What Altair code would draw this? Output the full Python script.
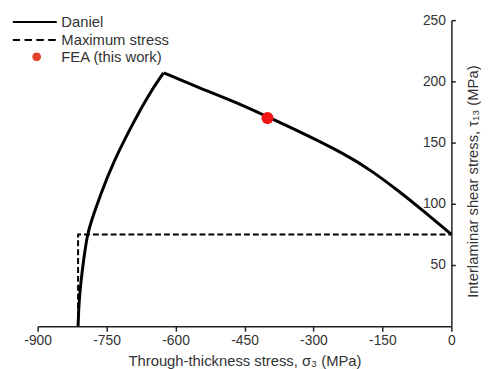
import altair as alt
import pandas as pd

# Daniel failure envelope: rising branch and falling branch
daniel_rise_sigma = [-812, -810, -802, -792, -784, -763, -734, -698, -659, -626]
daniel_rise_tau = [0, 22, 49, 75, 85, 108, 135, 162, 189, 207]
daniel_fall_sigma = [-626, -551, -465, -400, -336, -228, -174, -120, -63, 0]
daniel_fall_tau = [207, 195, 182.5, 171, 160, 140, 127, 112, 95, 75]

# Maximum stress envelope
maxstress_sigma = [-812, -812, 0]
maxstress_tau = [0, 75, 75]

# FEA point
fea_sigma = [-400]
fea_tau = [170]

x_ticks = [-900, -750, -600, -450, -300, -150, 0]
y_ticks = [50, 100, 150, 200, 250]

legend_labels = ["Daniel", "Maximum stress", "FEA (this work)"]

FONT = "Liberation Sans"
TXT = "#333333"

daniel_df = pd.concat([
    pd.DataFrame({"s": daniel_rise_sigma, "t": daniel_rise_tau, "b": "rise",
                  "o": range(len(daniel_rise_sigma))}),
    pd.DataFrame({"s": daniel_fall_sigma, "t": daniel_fall_tau, "b": "fall",
                  "o": range(len(daniel_fall_sigma))}),
], ignore_index=True)
ms_df = pd.DataFrame({"s": maxstress_sigma, "t": maxstress_tau, "o": range(len(maxstress_sigma))})
fea_df = pd.DataFrame({"s": fea_sigma, "t": fea_tau})

xscale = alt.Scale(domain=[-900, 0], nice=False, zero=False)
yscale = alt.Scale(domain=[0, 250], nice=False)

xaxis = alt.Axis(values=x_ticks, title="Through-thickness stress, σ₃ (MPa)",
                 labelExpr="replace(datum.label, '−', '-')",
                 grid=False, domainColor="#222", domainWidth=1.5, tickColor="#222",
                 tickWidth=1.5, tickSize=5, labelFontSize=14, labelColor=TXT,
                 labelFont=FONT, titleFont=FONT, titleFontSize=15, titleFontWeight="normal",
                 titleColor=TXT, labelPadding=2, titlePadding=7, labelFlush=False)
yaxis = alt.Axis(orient="right", values=y_ticks,
                 title="Interlaminar shear stress, τ₁₃ (MPa)",
                 grid=False, domainColor="#222", domainWidth=1.5, tickColor="#222",
                 tickWidth=1.5, tickSize=4, labelFontSize=14, labelColor=TXT,
                 labelFont=FONT, labelAlign="right", labelPadding=-10,
                 titleFont=FONT, titleFontSize=15, titleFontWeight="normal",
                 titleColor=TXT, titleAngle=270, titleX=21, titleY=163,
                 titleBaseline="middle", titleAlign="center", labelFlush=False)

daniel = alt.Chart(daniel_df).mark_line(color="black", strokeWidth=3, interpolate="basis").encode(
    x=alt.X("s:Q", scale=xscale, axis=xaxis),
    y=alt.Y("t:Q", scale=yscale, axis=yaxis),
    detail="b:N",
    order="o:Q",
)

maxstress = alt.Chart(ms_df).mark_line(color="black", strokeWidth=2, strokeDash=[6, 3]).encode(
    x=alt.X("s:Q", scale=xscale),
    y=alt.Y("t:Q", scale=yscale),
    order="o:Q",
)

fea = alt.Chart(fea_df).mark_circle(color="#f01414", opacity=1, size=150).encode(
    x=alt.X("s:Q", scale=xscale),
    y=alt.Y("t:Q", scale=yscale),
)

# manual legend
leg_df = pd.DataFrame({"label": legend_labels})
leg_solid = alt.Chart(leg_df).mark_rule(color="black", strokeWidth=2).encode(
    x=alt.value(-25), x2=alt.value(19), y=alt.value(2))
leg_dash = alt.Chart(leg_df).mark_rule(color="black", strokeWidth=2, strokeDash=[7, 5]).encode(
    x=alt.value(-25), x2=alt.value(19), y=alt.value(20))
leg_dot = alt.Chart(leg_df).mark_circle(color="#e8432c", opacity=1, size=65).encode(
    x=alt.value(-1), y=alt.value(37))
leg_text = alt.Chart(pd.DataFrame({"label": legend_labels, "yy": [2, 20, 37]})).mark_text(
    align="left", baseline="middle", font=FONT, fontSize=15, color=TXT).encode(
    x=alt.value(24), y=alt.Y("yy:Q", scale=None), text="label:N")

chart = alt.layer(maxstress, daniel, fea, leg_solid, leg_dash, leg_dot, leg_text).properties(
    width=419, height=310,
    autosize=alt.AutoSizeParams(type="none"),
    padding={"left": 30, "top": 10, "right": 30, "bottom": 41},
).configure_view(stroke=None)

chart.save("out.html", embed_options={"renderer": "svg", "actions": False})
